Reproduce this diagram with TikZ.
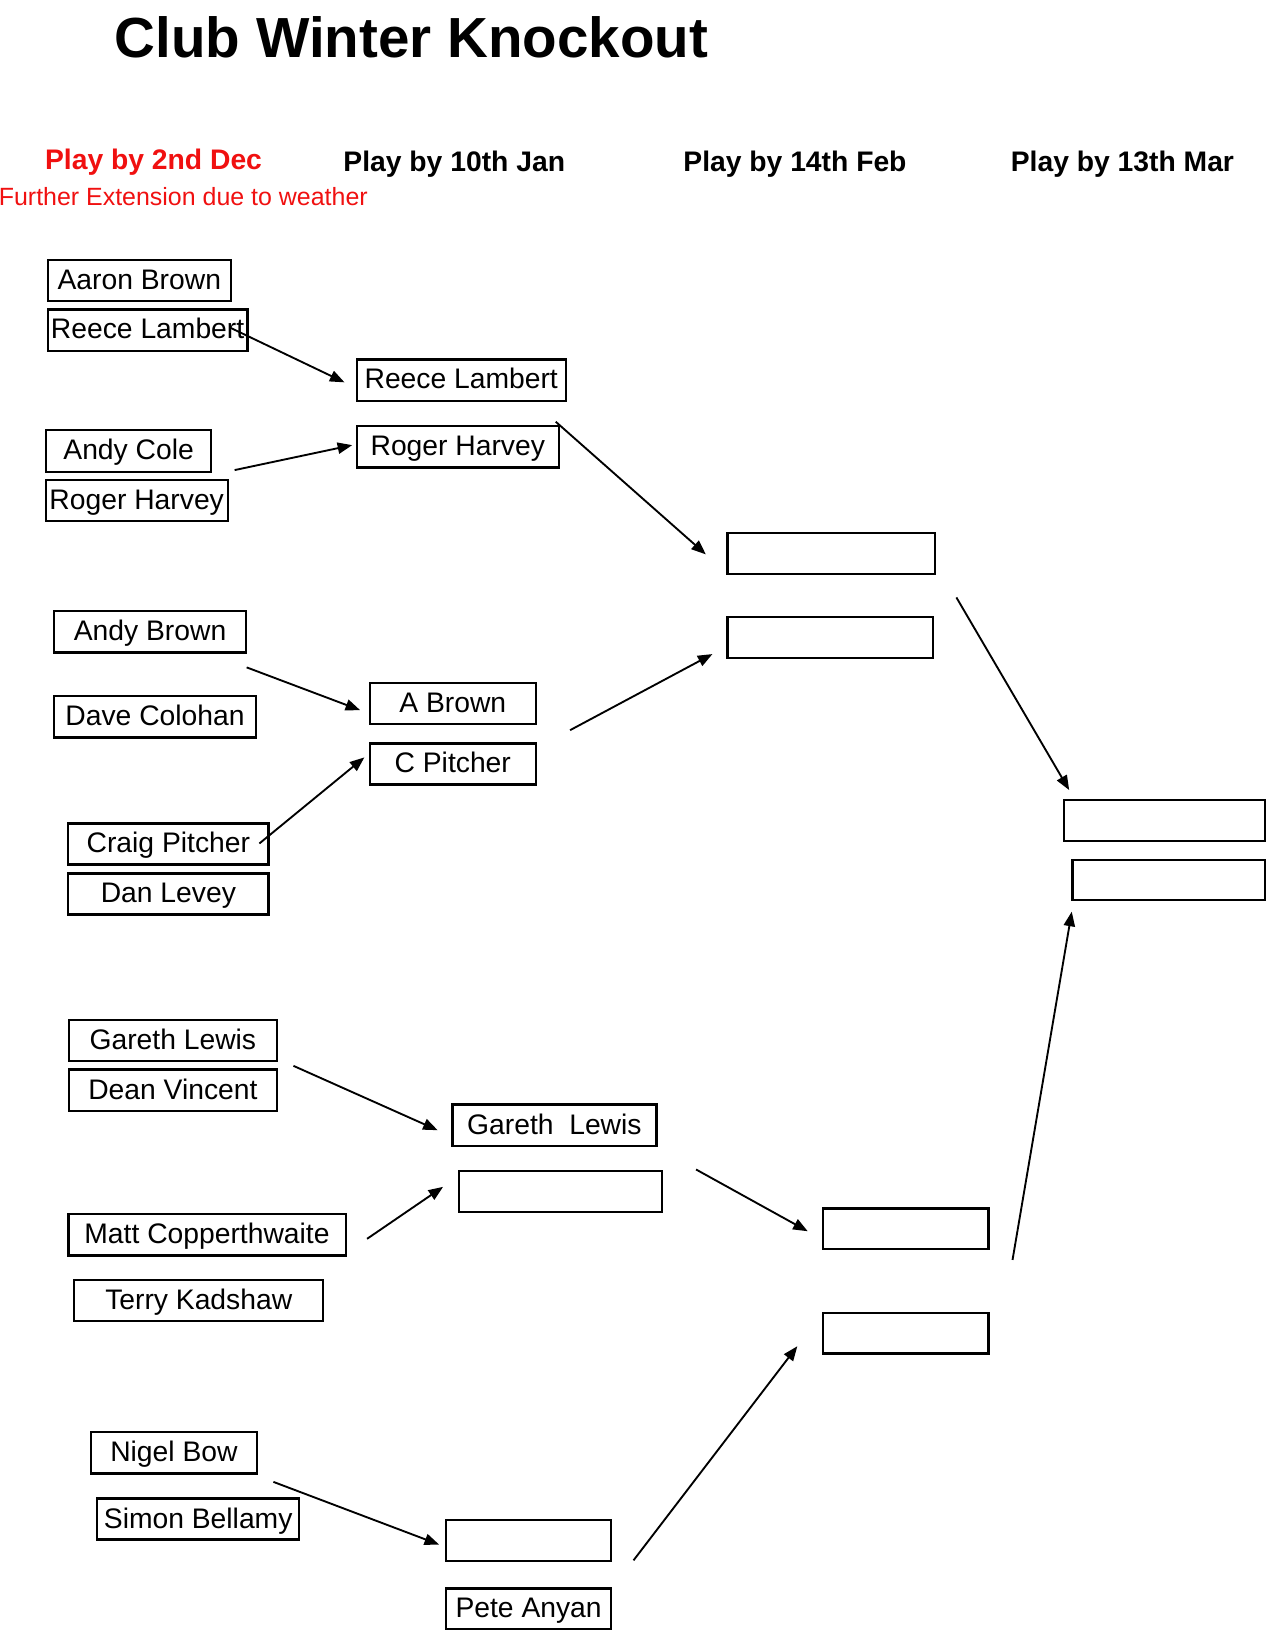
\documentclass[tikz,border=0pt]{standalone}
\usepackage{fontspec}
\setmainfont{Liberation Sans}
\usetikzlibrary{arrows.meta}
\definecolor{hdrred}{RGB}{240,16,16}
\newcommand\kobox[6]{\node[kbox, minimum width={(#4-#2)*0.5pt}, minimum height={(#5-#3)*0.5pt}] (#1) at ({(#2+#4)/2},{(#3+#5)/2}) {#6};}
\begin{document}
\begin{tikzpicture}[x=0.5pt,y=-0.5pt,
  kbox/.style={draw, line width=1.1pt, inner sep=0pt, outer sep=0pt,
    font=\fontsize{13.6pt}{16pt}\selectfont, text height=8.6pt, text depth=0pt},
  arr/.style={-{Triangle[length=7pt,width=5.4pt]}, line width=0.9pt},
  hdr/.style={anchor=base west, inner sep=0pt, font=\bfseries\fontsize{13.6pt}{16pt}\selectfont}]
\useasboundingbox (0,0) rectangle (1218,1568);
% title and headers
\node[anchor=base west, inner sep=0pt, font=\bfseries\fontsize{27.2pt}{30pt}\selectfont] (title) at (110,55) {Club Winter Knockout};
\node[hdr, text=hdrred] (h1) at (43,163) {Play by 2nd Dec};
\node[anchor=base west, inner sep=0pt, text=hdrred, font=\fontsize{12pt}{14pt}\selectfont] (h1b) at (-1.5,198) {Further Extension due to weather};
\node[hdr] (h2) at (330,165) {Play by 10th Jan};
\node[hdr] (h3) at (657,165) {Play by 14th Feb};
\node[hdr] (h4) at (972,165) {Play by 13th Mar};
% round 1
\kobox{ab}{46}{250}{222}{289.6}{Aaron Brown}
\kobox{rla}{46}{297.6}{238}{337.4}{Reece Lambert}
\kobox{ac}{44.2}{413.7}{203.3}{453.8}{Andy Cole}
\kobox{rha}{44}{462}{219}{501}{Roger Harvey}
\kobox{anb}{52}{588}{236.7}{627.6}{Andy Brown}
\kobox{dc}{52}{669.6}{246.3}{709.4}{Dave Colohan}
\kobox{cpa}{65.7}{792.2}{258.2}{831.6}{Craig Pitcher}
\kobox{dl}{65.7}{840.2}{258.2}{879.7}{Dan Levey}
\kobox{gla}{66.2}{981.4}{266.4}{1020.8}{Gareth Lewis}
\kobox{dv}{66.2}{1028.8}{266.4}{1068.6}{Dean Vincent}
\kobox{mc}{65.8}{1168}{332.5}{1207.8}{Matt Copperthwaite}
\kobox{tk}{71.4}{1231.5}{311}{1271}{Terry Kadshaw}
\kobox{nb}{87.6}{1377.4}{247}{1417.5}{Nigel Bow}
\kobox{sb}{93.6}{1441.6}{287.7}{1481}{Simon Bellamy}
% round 2
\kobox{rlb}{343.2}{345.7}{544.2}{385.5}{Reece Lambert}
\kobox{rhb}{343.2}{409.9}{537.6}{449.6}{Roger Harvey}
\kobox{abr}{355.7}{656.8}{515.4}{696.6}{A Brown}
\kobox{cpb}{355.7}{715.2}{515.4}{754.6}{C Pitcher}
\kobox{glb}{435.2}{1062.5}{631.4}{1102.6}{Gareth\ \ Lewis}
\kobox{rtc}{441.2}{1126.3}{637}{1166.1}{}
\kobox{rtd}{429}{1462.4}{588}{1501.5}{}
\kobox{pa}{429}{1528}{588}{1567}{Pete Anyan}
% round 3
\kobox{qa}{699.8}{513}{899.6}{552.3}{}
\kobox{qb}{699.8}{593.6}{897.4}{632.8}{}
\kobox{qc}{791.5}{1162.5}{950.9}{1201.7}{}
\kobox{qd}{791.5}{1263}{950.9}{1302}{}
% final
\kobox{fa}{1023.4}{769.7}{1216.8}{809}{}
\kobox{fb}{1031.7}{827.4}{1216.8}{866}{}
% connector end points
\coordinate (s1) at (221,315);      \coordinate (e1) at (331.4,367.8);
\coordinate (s2) at (225.7,452.2);  \coordinate (e2) at (338.8,428.2);
\coordinate (s3) at (534.6,405.7);  \coordinate (e3) at (679,533.3);
\coordinate (s4) at (237.3,642);    \coordinate (e4) at (346.4,683.1);
\coordinate (s5) at (249.5,811.4);  \coordinate (e5) at (350.5,728.6);
\coordinate (s6) at (548.4,702.4);  \coordinate (e6) at (685.3,629.2);
\coordinate (s7) at (920,574.7);    \coordinate (e7) at (1028.5,760);
\coordinate (s8) at (282.3,1025.3); \coordinate (e8) at (421,1087.2);
\coordinate (s9) at (353.1,1191.7); \coordinate (e9) at (426.2,1141.7);
\coordinate (s10) at (669.6,1125);  \coordinate (e10) at (777,1184.4);
\coordinate (s11) at (974,1212);    \coordinate (e11) at (1031,877);
\coordinate (s12) at (263,1425.5);  \coordinate (e12) at (422.4,1485.8);
\coordinate (s13) at (609.4,1501);  \coordinate (e13) at (767,1295);
\foreach \i in {1,...,13} { \draw[arr] (s\i) -- (e\i); }
\end{tikzpicture}
\end{document}
